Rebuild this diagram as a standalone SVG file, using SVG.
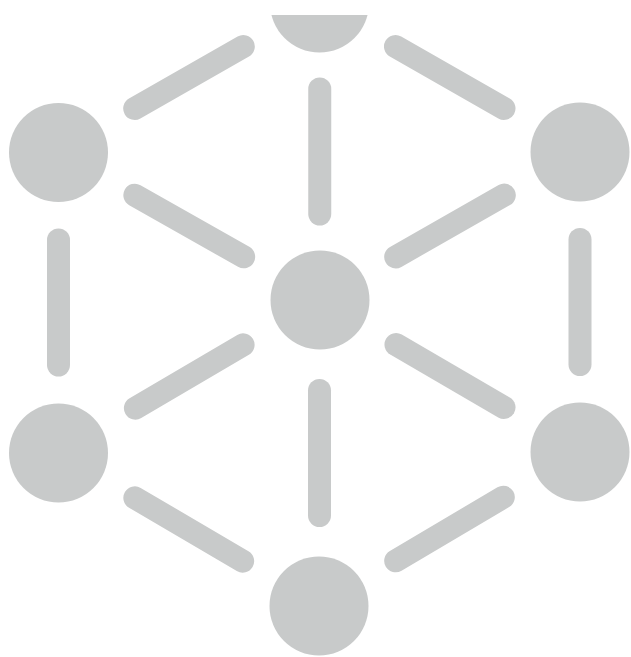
<svg xmlns="http://www.w3.org/2000/svg" width="631" height="657" viewBox="0 0 631 657">
<style>
.node{fill:#c8caca}
.bar{stroke:#c8caca;stroke-width:23;stroke-linecap:round;fill:none}
</style>
<defs>
<clipPath id="topclip"><rect x="0" y="15" width="631" height="642"/></clipPath>
</defs>
<rect width="631" height="657" fill="#ffffff"/>
<g id="connectors">
<line class="bar" x1="243.3" y1="46.5" x2="134.7" y2="108.5"/>
<line class="bar" x1="395.5" y1="46.5" x2="504" y2="108.5"/>
<line class="bar" x1="319.75" y1="89" x2="319.75" y2="214"/>
<line class="bar" x1="134.85" y1="195.2" x2="243.65" y2="256.8"/>
<line class="bar" x1="504.3" y1="195.1" x2="395.7" y2="256.9"/>
<line class="bar" x1="58.5" y1="240" x2="58.5" y2="365"/>
<line class="bar" x1="580" y1="239.5" x2="580" y2="364.5"/>
<line class="bar" x1="243.1" y1="344.9" x2="135.4" y2="408.1"/>
<line class="bar" x1="396" y1="344.5" x2="504" y2="407.5"/>
<line class="bar" x1="319.5" y1="390.5" x2="319.5" y2="515.5"/>
<line class="bar" x1="134.85" y1="497.8" x2="242.65" y2="561.2"/>
<line class="bar" x1="503.3" y1="497.2" x2="395.7" y2="560.8"/>
</g>
<g id="node-top" clip-path="url(#topclip)"><circle class="node" cx="319.5" cy="3" r="49.5"/></g>
<g id="node-upper-left"><circle class="node" cx="58.5" cy="152.5" r="49.5"/></g>
<g id="node-upper-right"><circle class="node" cx="580" cy="152" r="49.5"/></g>
<g id="node-center"><circle class="node" cx="320" cy="300" r="49.5"/></g>
<g id="node-lower-left"><circle class="node" cx="58.5" cy="453" r="49.5"/></g>
<g id="node-lower-right"><circle class="node" cx="580" cy="452" r="49.5"/></g>
<g id="node-bottom"><circle class="node" cx="319" cy="606" r="49.5"/></g>
</svg>
